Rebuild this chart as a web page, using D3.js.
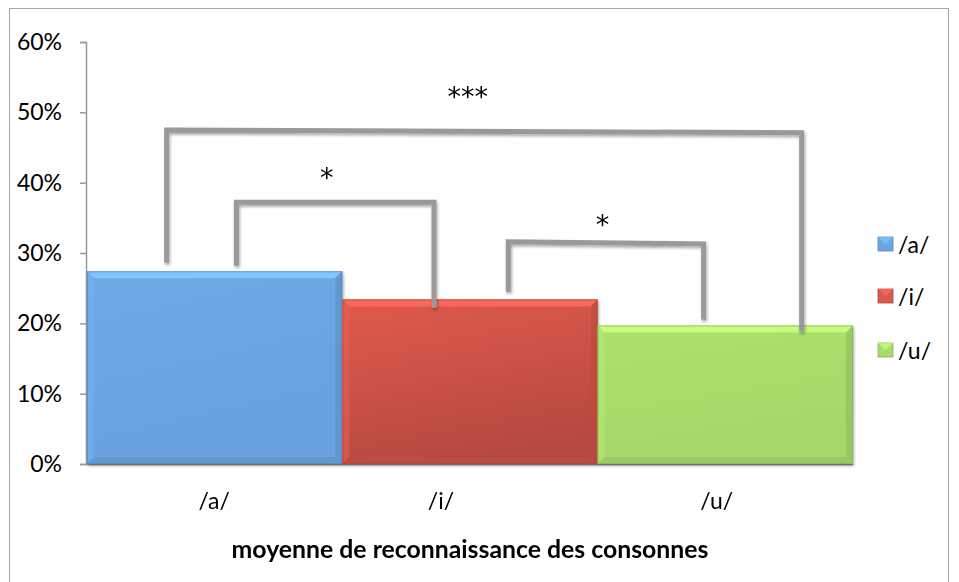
<!DOCTYPE html>
<html>
<head>
<meta charset="utf-8">
<script src="https://cdn.jsdelivr.net/npm/d3@7"></script>
<style>
  html, body { margin: 0; padding: 0; background: #fff; }
  svg { display: block; font-family: Lato, "Open Sans", sans-serif; }
</style>
</head>
<body>
<svg id="chart" width="959" height="582"></svg>
<script>
// ---- data ----
const series = ["/a/", "/i/", "/u/"];
const values = [0.274, 0.234, 0.197];
const colors = ["#6CA7E4", "#DC584D", "#A9DD6B"];
const yTicks = [0, 0.1, 0.2, 0.3, 0.4, 0.5, 0.6];
const xLabels = ["/a/", "/i/", "/u/"];
const xLabelPos = [0.166, 0.462, 0.822];
const axisTitle = "moyenne de reconnaissance des consonnes";
// significance brackets: x in plot fraction, y in value units
const brX1 = [0.104, 0.195, 0.550];
const brX2 = [0.933, 0.453, 0.805];
const brTopL = [0.475, 0.372, 0.316];
const brTopR = [0.471, 0.372, 0.313];
const brBotL = [0.286, 0.282, 0.245];
const brBotR = [0.188, 0.222, 0.205];
const brLabel = ["***", "*", "*"];
const brLabelX = [0.497, 0.313, 0.673];
const brLabelY = [0.522, 0.408, 0.341];

// ---- layout ----
const svg = d3.select("#chart");
const plot = { left: 87, right: 853, top: 42, bottom: 464 };

const y = d3.scaleLinear().domain([0, 0.6]).range([plot.bottom, plot.top]);
const x = d3.scaleBand().domain(series).range([plot.left, plot.right]).padding(0);
const fx = d3.scaleLinear().domain([0, 1]).range([plot.left, plot.right]);

// outer border
svg.append("rect").attr("x", 9.5).attr("y", 8.5).attr("width", 939).attr("height", 600)
  .attr("fill", "none").attr("stroke", "#a6a6a6").attr("stroke-width", 1);

const defs = svg.append("defs");
const shadow = defs.append("filter").attr("id", "shadow").attr("x", "-20%").attr("y", "-20%").attr("width", "140%").attr("height", "140%");
shadow.append("feGaussianBlur").attr("in", "SourceAlpha").attr("stdDeviation", 1.5).attr("result", "b");
shadow.append("feOffset").attr("dx", 1).attr("dy", 2).attr("result", "o");
shadow.append("feComponentTransfer").append("feFuncA").attr("type", "linear").attr("slope", 0.35);
const m = shadow.append("feMerge");
m.append("feMergeNode");
m.append("feMergeNode").attr("in", "SourceGraphic");

colors.forEach((c, i) => {
  const g = defs.append("linearGradient").attr("id", "grad" + i)
    .attr("x1", 0).attr("y1", 0).attr("x2", 0.3).attr("y2", 1);
  const base = d3.color(c);
  const dark = i === 1 ? base.darker(0.5) : base.darker(0.08);
  g.append("stop").attr("offset", "0%").attr("stop-color", base.brighter(0.05));
  g.append("stop").attr("offset", "100%").attr("stop-color", dark);
});

// y axis
const yAxis = d3.axisLeft(y).tickValues(yTicks).tickFormat(d3.format(".0%")).tickSize(6).tickPadding(18);
const gy = svg.append("g").attr("transform", `translate(${plot.left - 1},0)`).call(yAxis);
gy.select(".domain").attr("stroke", "#999").attr("stroke-width", 1.5);
gy.selectAll(".tick line").attr("stroke", "#999").attr("stroke-width", 1.5);
gy.selectAll(".tick text").attr("font-size", 23).attr("fill", "#000").attr("font-family", "Lato, sans-serif");

// x axis line
svg.append("line").attr("x1", plot.left - 1).attr("x2", plot.right)
  .attr("y1", y(0) + 0.5).attr("y2", y(0) + 0.5).attr("stroke", "#999").attr("stroke-width", 1.5);

// bars with bevel
const bev = 7;
const barsG = svg.append("g").attr("filter", "url(#shadow)");
series.forEach((s, i) => {
  const x0 = x(s), x1 = x(s) + x.bandwidth();
  const y0 = y(values[i]), y1 = y(0);
  const base = d3.color(colors[i]);
  const g = barsG.append("g");
  g.append("rect").attr("x", x0).attr("y", y0).attr("width", x1 - x0).attr("height", y1 - y0)
    .attr("fill", `url(#grad${i})`);
  g.append("polygon").attr("points", [[x0, y0], [x1, y0], [x1 - bev, y0 + bev], [x0 + bev, y0 + bev]].join(" "))
    .attr("fill", base.brighter(0.55)).attr("opacity", 0.85);
  g.append("polygon").attr("points", [[x0, y0], [x0 + bev, y0 + bev], [x0 + bev, y1 - bev], [x0, y1]].join(" "))
    .attr("fill", base.brighter(0.15)).attr("opacity", 0.6);
  g.append("polygon").attr("points", [[x1, y0], [x1, y1], [x1 - bev, y1 - bev], [x1 - bev, y0 + bev]].join(" "))
    .attr("fill", base.darker(0.5)).attr("opacity", 0.55);
  g.append("polygon").attr("points", [[x0, y1], [x1, y1], [x1 - bev, y1 - bev], [x0 + bev, y1 - bev]].join(" "))
    .attr("fill", base.darker(0.4)).attr("opacity", 0.55);
  g.append("rect").attr("x", x0 + 0.5).attr("y", y0 + 0.5).attr("width", x1 - x0 - 1).attr("height", y1 - y0 - 1)
    .attr("fill", "none").attr("stroke", base.darker(0.7)).attr("stroke-width", 1).attr("opacity", 0.6);
});

// brackets
const brG = svg.append("g").attr("filter", "url(#shadow)");
brX1.forEach((_, i) => {
  const pts = [[fx(brX1[i]), y(brBotL[i])], [fx(brX1[i]), y(brTopL[i])], [fx(brX2[i]), y(brTopR[i])], [fx(brX2[i]), y(brBotR[i])]];
  brG.append("path").attr("d", d3.line()(pts)).attr("fill", "none")
    .attr("stroke", "#999").attr("stroke-width", 5).attr("stroke-linejoin", "miter");
});
brLabel.forEach((t, i) => {
  svg.append("text").attr("x", fx(brLabelX[i])).attr("y", y(brLabelY[i]))
    .attr("text-anchor", "middle").attr("dominant-baseline", "central")
    .attr("font-size", 27).attr("fill", "#000").attr("font-family", "DejaVu Sans, sans-serif").text(t);
});

// x labels
xLabels.forEach((t, i) => {
  svg.append("text").attr("x", fx(xLabelPos[i])).attr("y", 500)
    .attr("text-anchor", "middle").attr("dominant-baseline", "central")
    .attr("font-size", 23).attr("fill", "#000").text(t);
});
svg.append("text").attr("x", (plot.left + plot.right) / 2).attr("y", 548).attr("text-anchor", "middle").attr("dominant-baseline", "central")
  .attr("font-size", 24.8).attr("font-weight", "bold").attr("fill", "#000").text(axisTitle);

// legend
const lg = svg.append("g").attr("transform", "translate(878,0)");
const legY = [244, 296, 350];
series.forEach((s, i) => {
  const base = d3.color(colors[i]);
  lg.append("rect").attr("x", 0).attr("y", legY[i] - 7).attr("width", 15).attr("height", 14)
    .attr("fill", colors[i]).attr("stroke", base.darker(0.6)).attr("stroke-width", 0.8);
  lg.append("polygon").attr("points", [[0, legY[i] - 7], [15, legY[i] - 7], [7.5, legY[i]]].join(" "))
    .attr("fill", base.brighter(0.5)).attr("opacity", 0.7);
  lg.append("text").attr("x", 20).attr("y", legY[i]).attr("dominant-baseline", "central")
    .attr("font-size", 23).attr("fill", "#000").text(s);
});
</script>
</body>
</html>
